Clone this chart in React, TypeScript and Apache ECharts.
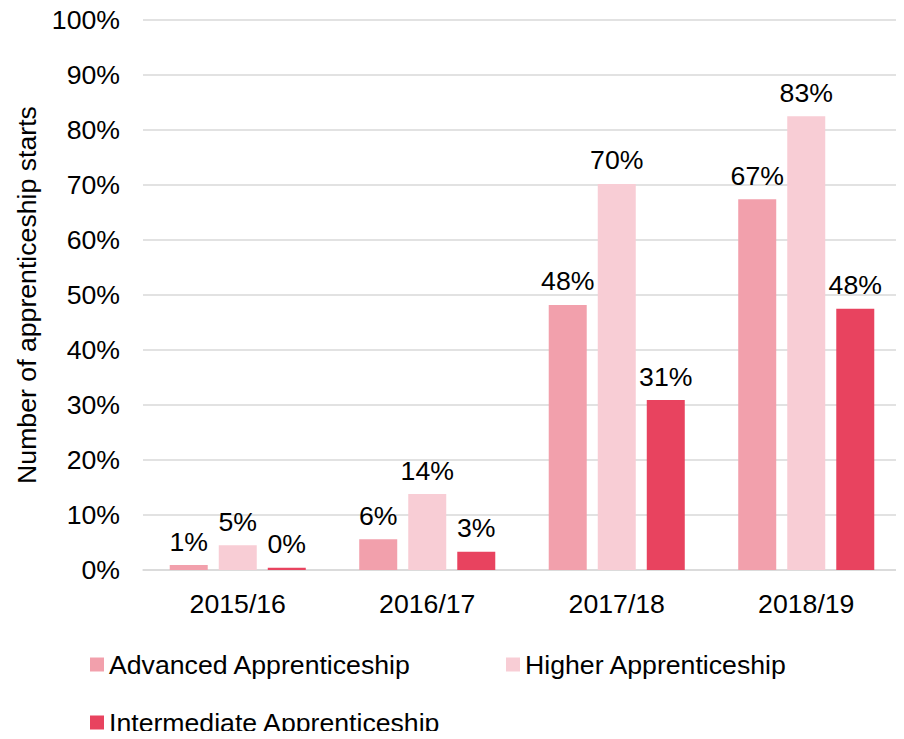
import React, { useEffect, useRef } from "react";
import * as echarts from "echarts";

const categories = ["2015/16", "2016/17", "2017/18", "2018/19"];
const advanced = [0.9, 5.6, 48.2, 67.4];
const higher = [4.5, 13.8, 70.2, 82.5];
const intermediate = [0.4, 3.3, 30.9, 47.5];
const seriesNames = ["Advanced Apprenticeship", "Higher Apprenticeship", "Intermediate Apprenticeship"];
const colors = ["#F2A0AC", "#F8CDD5", "#E8435F"];

const FONT = "'Liberation Sans', Arial, sans-serif";
const FS = 26.67;

export default function App() {
  const ref = useRef<HTMLDivElement>(null);
  useEffect(() => {
    if (!ref.current) return;
    const chart = echarts.init(ref.current, null, { renderer: "svg" });
    const label = {
      show: true,
      position: "top",
      distance: 10,
      color: "#000",
      fontSize: FS,
      fontFamily: FONT,
      formatter: (p: any) => Math.round(p.value) + "%",
    };
    const data = [advanced, higher, intermediate];
    const legendPos = [
      { left: 85, top: 646 },
      { left: 501, top: 646 },
      { left: 85, top: 704 },
    ];
    chart.setOption({
      animation: false,
      textStyle: { fontFamily: FONT },
      grid: { left: 143, right: 3, top: 20, bottom: 169 },
      legend: seriesNames.map((n, i) => ({
        data: [n],
        left: legendPos[i].left,
        top: legendPos[i].top,
        itemWidth: 14,
        itemHeight: 14,
        icon: "rect",
        textStyle: { fontSize: FS, color: "#000", fontFamily: FONT },
      })),
      xAxis: {
        type: "category",
        data: categories,
        axisTick: { show: false },
        axisLine: { lineStyle: { color: "#d9d9d9", width: 1.5 } },
        axisLabel: { fontSize: FS, color: "#000", margin: 20, fontFamily: FONT },
      },
      yAxis: {
        type: "value",
        min: 0,
        max: 100,
        interval: 10,
        name: "Number of apprenticeship starts",
        nameLocation: "middle",
        nameGap: 100,
        nameTextStyle: { fontSize: FS, color: "#000", fontFamily: FONT },
        axisLabel: { fontSize: FS, color: "#000", margin: 23, formatter: "{value}%", fontFamily: FONT },
        splitLine: { lineStyle: { color: "#d9d9d9", width: 1.5 } },
        axisLine: { show: false },
        axisTick: { show: false },
      },
      series: seriesNames.map((n, i) => ({
        name: n,
        type: "bar",
        data: data[i],
        barWidth: 38,
        barGap: "29%",
        itemStyle: { color: colors[i] },
        label,
      })),
    });
    return () => chart.dispose();
  }, []);
  return <div ref={ref} style={{ width: 904, height: 739, margin: -8 }} />;
}
